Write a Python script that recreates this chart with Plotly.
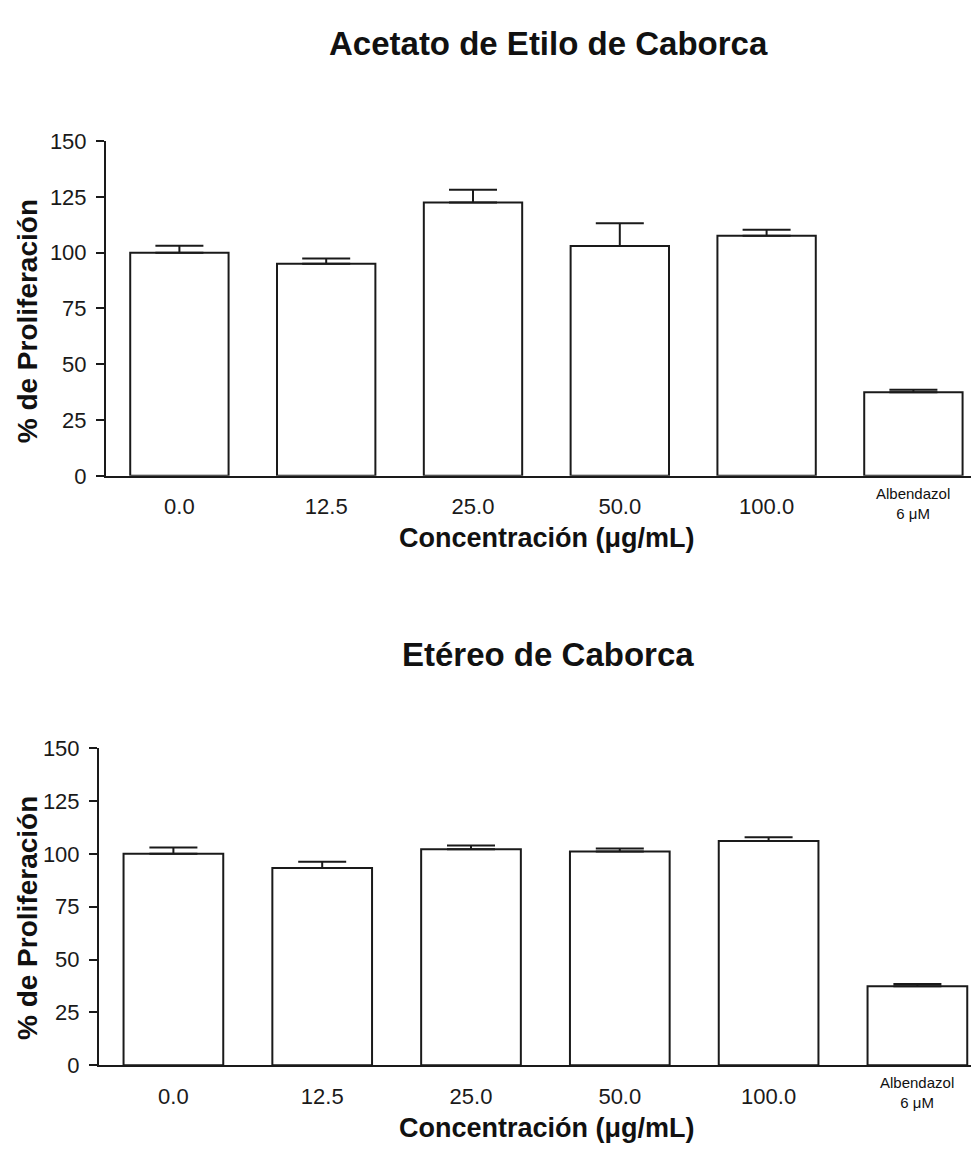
import plotly.graph_objects as go

categories = ["0.0", "12.5", "25.0", "50.0", "100.0", "Albendazol<br>6 μM"]
acetato_mean = [100.0, 95.0, 122.4, 103.0, 107.6, 37.4]
acetato_err = [3.1, 2.4, 5.8, 10.2, 2.6, 1.2]
etereo_mean = [100.0, 93.3, 102.2, 101.1, 106.1, 37.3]
etereo_err = [3.0, 2.9, 1.7, 1.4, 1.7, 1.1]
y_ticks = [0, 25, 50, 75, 100, 125, 150]

title_top = "Acetato de Etilo de Caborca"
title_bottom = "Etéreo de Caborca"
x_title = "Concentración (μg/mL)"
y_title = "% de Proliferación"

# page is 979x1156; the plot div sits inside the body's default 8px margin
PW, PH, OFF = 979, 1156, 8
FW, FH = PW - OFF, PH - OFF
FONT = "Liberation Sans, Arial, sans-serif"
INK = "#1a1a1a"
xpos = list(range(len(categories)))
ticktext = categories[:-1] + [""]          # last label drawn smaller below


def fx(p):
    return (p - OFF) / FW


def fy(p):
    return 1 - (p - OFF) / FH


def bar(yv, err, xa, ya):
    return go.Bar(
        x=xpos, y=yv, width=0.67, xaxis=xa, yaxis=ya,
        marker=dict(color="white", line=dict(color=INK, width=2)),
        error_y=dict(type="data", array=err, arrayminus=[0] * len(err),
                     symmetric=False, color=INK, thickness=2, width=24),
        showlegend=False, hoverinfo="skip",
    )


fig = go.Figure()
fig.add_trace(bar(acetato_mean, acetato_err, "x", "y"))
fig.add_trace(bar(etereo_mean, etereo_err, "x2", "y2"))

# page-pixel geometry
top_left, top_y0, top_y1, top_step = 106, 474, 131.7, 146.8
bot_left, bot_y0, bot_y1, bot_step = 99, 1076.5, 752.3, 148.8

xcommon = dict(showline=True, linecolor=INK, linewidth=2, ticks="", showgrid=False,
               zeroline=False, tickvals=xpos, ticktext=ticktext,
               tickfont=dict(family=FONT, size=22, color=INK), ticklabelstandoff=10)
ycommon = dict(showline=True, linecolor=INK, linewidth=2, ticks="outside", ticklen=8,
               tickwidth=2, tickcolor=INK, showgrid=False, zeroline=False,
               range=[0, 150], tickvals=y_ticks,
               tickfont=dict(family=FONT, size=22, color=INK), ticklabelstandoff=5)

fig.update_layout(
    width=FW, height=FH, margin=dict(l=0, r=0, t=0, b=0),
    paper_bgcolor="white", plot_bgcolor="white",
    xaxis=dict(domain=[fx(top_left), 1], anchor="y",
               range=[-0.5, -0.5 + (PW - top_left) / top_step], **xcommon),
    yaxis=dict(domain=[fy(top_y0), fy(top_y1)], anchor="x", **ycommon),
    xaxis2=dict(domain=[fx(bot_left), 1], anchor="y2",
                range=[-0.5, -0.5 + (PW - bot_left) / bot_step], **xcommon),
    yaxis2=dict(domain=[fy(bot_y0), fy(bot_y1)], anchor="x2", **ycommon),
)

ann = []


def text(t, x, y, size, angle=0, bold=True, xref="paper"):
    ann.append(dict(text=("<b>" + t + "</b>") if bold else t,
                    x=fx(x) if xref == "paper" else x, y=fy(y),
                    xref=xref, yref="paper",
                    showarrow=False, textangle=angle, xanchor="center", yanchor="middle",
                    font=dict(family=FONT, size=size, color="#111")))


text(title_top, 548, 32, 33)
text(title_bottom, 548, 657, 33)
text(x_title, 547, 538, 27)
text(x_title, 547, 1141, 27)
text(y_title, 27, 316, 28, -90)
text(y_title, 27, 926, 28, -90)
text(categories[-1], xpos[-1], 502, 15, bold=False, xref="x")
text(categories[-1], xpos[-1], 1104, 15, bold=False, xref="x2")
fig.update_layout(annotations=ann)

fig.write_html("out.html")
